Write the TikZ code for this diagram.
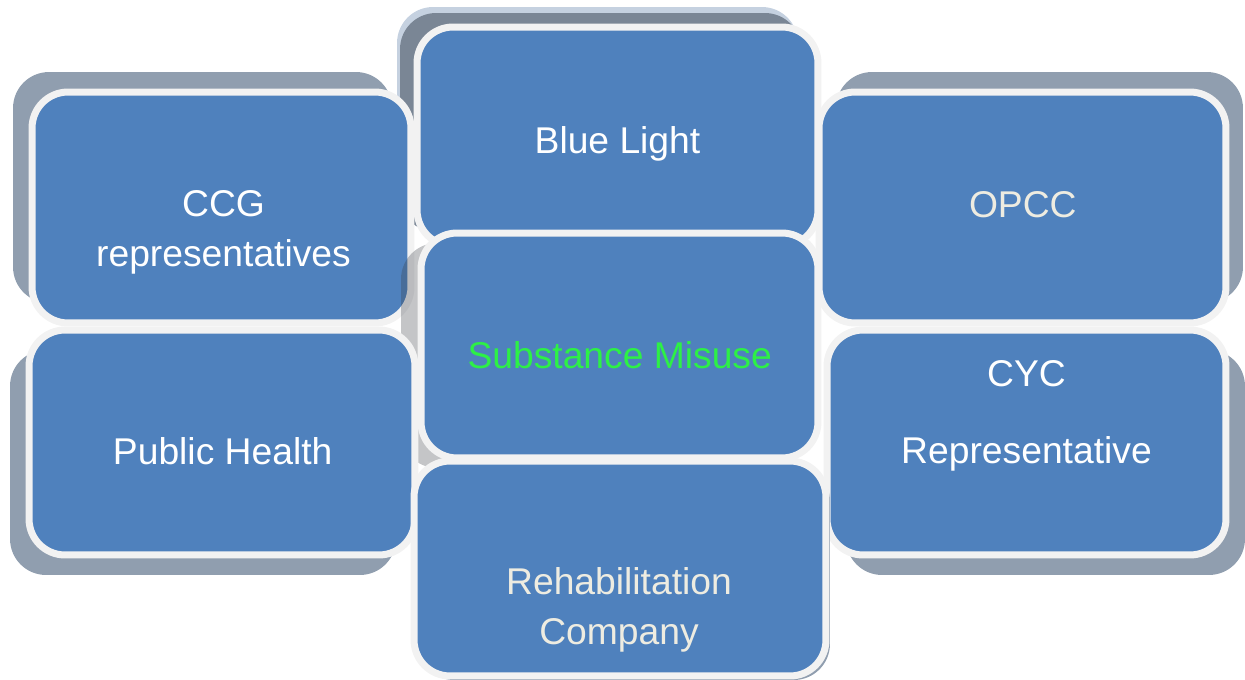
\documentclass[tikz,border=0pt]{standalone}
\usepackage{fontspec}
\setmainfont{Liberation Sans}
\usetikzlibrary{shadows}

\definecolor{tileblue}{HTML}{4F81BD}
\definecolor{tileedge}{HTML}{F2F2F2}
\definecolor{shadegrey}{HTML}{909EAF}
\definecolor{shadelight}{HTML}{C5D1E0}
\definecolor{paletext}{HTML}{EEECE1}
\definecolor{misusegreen}{RGB}{45,240,70}

\tikzset{
  tile/.style={rectangle, rounded corners=0.72cm, fill=tileblue, draw=tileedge,
               line width=0.14cm, inner sep=0pt, outer sep=0pt},
  tiletext/.style={align=center, inner sep=0pt, text=white,
                   font=\fontsize{21.2}{28.45}\selectfont},
}

\begin{document}
\begin{tikzpicture}[x=0.02cm, y=-0.02cm]
    \useasboundingbox (0,0) rectangle (1245,680);
    \def\shoff{0.4cm};

% middle column, top
    \node[tile, minimum width=8.02cm, minimum height=4.38cm,
          drop shadow={shadow xshift=-\shoff, shadow yshift=\shoff, fill=shadelight, opacity=1},
          drop shadow={shadow xshift=-0.34cm, shadow yshift=0.28cm, fill=shadegrey!85!black, opacity=1}]
          (blue) at (617.5,136.5) {};

% left and right, top row
    \node[tile, minimum width=7.58cm, minimum height=4.62cm,
          drop shadow={shadow xshift=-0.38cm, shadow yshift=\shoff, fill=shadegrey, opacity=1}]
          (ccg) at (221.5,207.5) {};
    \node[tile, minimum width=8.14cm, minimum height=4.62cm,
          drop shadow={shadow xshift=0.34cm, shadow yshift=\shoff, fill=shadegrey, opacity=1}]
          (opcc) at (1022.5,207.5) {};

% middle column, centre
    \node[tile, minimum width=7.94cm, minimum height=4.5cm,
          drop shadow={shadow xshift=-\shoff, shadow yshift=-0.2cm, fill=shadegrey!40!black, opacity=0.3}]
          (misuse) at (619.5,345.5) {};

% left and right, bottom row
    \node[tile, minimum width=7.72cm, minimum height=4.5cm,
          drop shadow={shadow xshift=-0.38cm, shadow yshift=-\shoff, fill=shadegrey, opacity=1}]
          (health) at (222,442.5) {};
    \node[tile, minimum width=7.98cm, minimum height=4.5cm,
          drop shadow={shadow xshift=0.38cm, shadow yshift=-\shoff, fill=shadegrey, opacity=1}]
          (cyc) at (1026.5,442.5) {};

% middle column, bottom
    \node[tile, minimum width=8.24cm, minimum height=4.3cm,
          drop shadow={shadow xshift=0.08cm, shadow yshift=-0.08cm, fill=shadegrey, opacity=1}]
          (rehab) at (620,568.5) {};

% texts
    \node[tiletext] (bluetxt) at (617.5,143.6) {Blue Light};
    \node[tiletext] (ccgtxt) at (223.5,232.6) {CCG\\representatives};
    \node[tiletext, text=paletext] (opcctxt) at (1022.8,205) {OPCC};
    \node[tiletext, text=misusegreen] (misusetxt) at (619.7,355) {Substance Misuse};
    \node[tiletext] (healthtxt) at (222.7,451) {Public Health};
    \node[tiletext] (cyctxt) at (1026.5,416) {CYC\\[15.5pt]Representative};
    \node[tiletext, text=paletext] (rehabtxt) at (619,609.7) {Rehabilitation\\Company};

\end{tikzpicture}
\end{document}
